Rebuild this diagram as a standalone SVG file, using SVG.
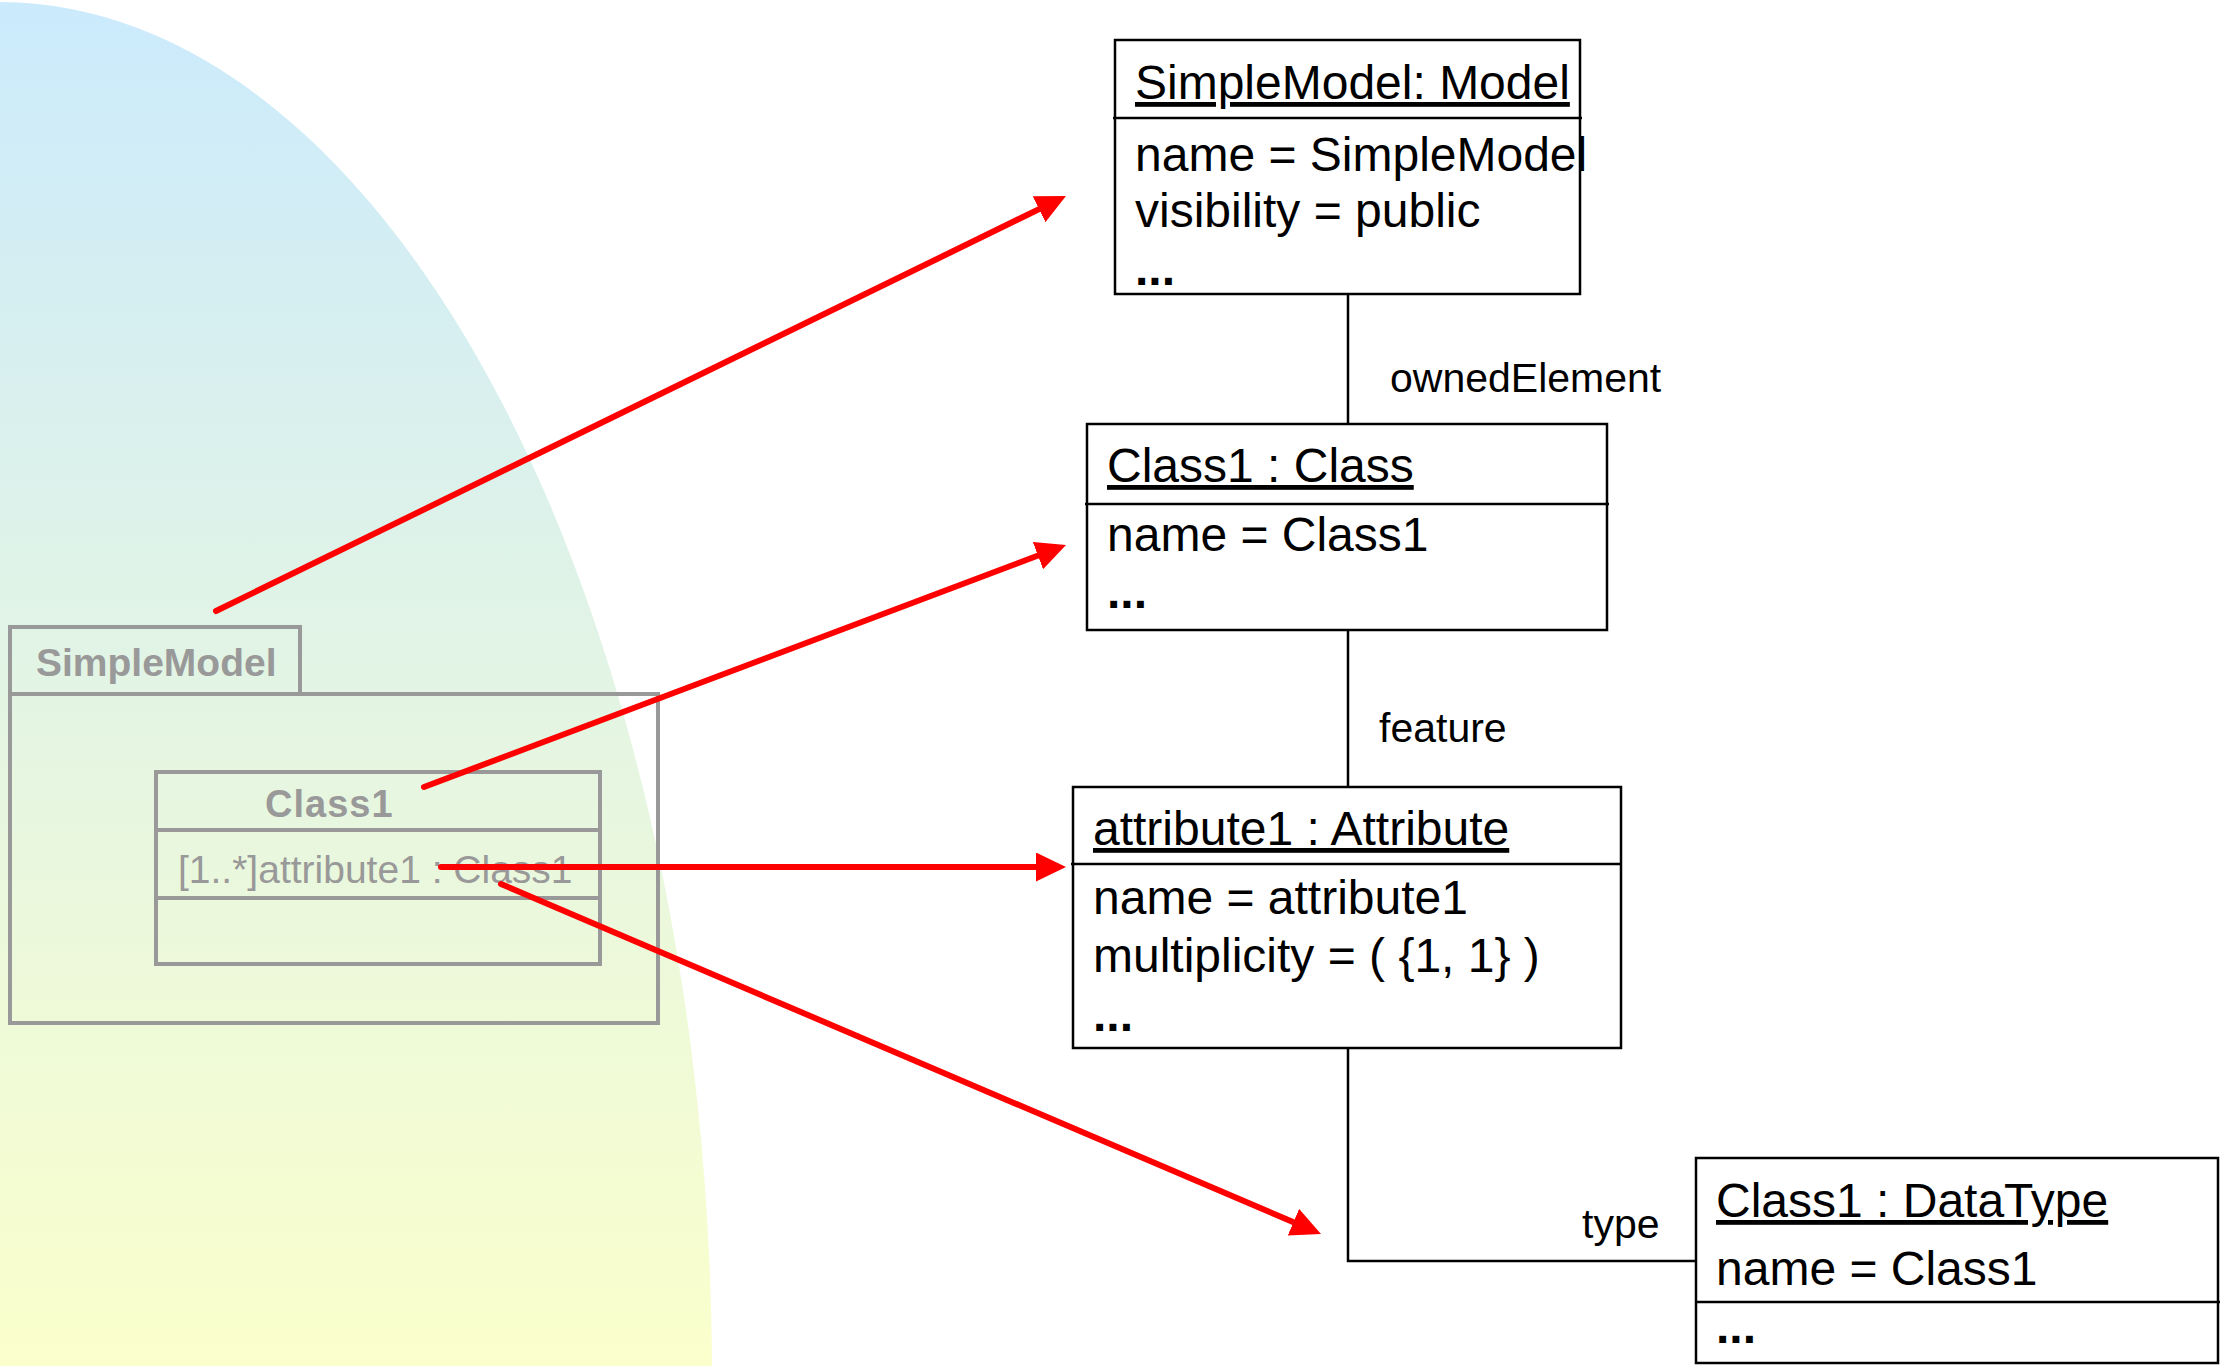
<svg xmlns="http://www.w3.org/2000/svg" width="2226" height="1366" viewBox="0 0 2226 1366">
<style>
.t{font-family:"Liberation Sans",Arial,sans-serif;font-size:48px;fill:#000}
.u{text-decoration:underline}
.dots{font-weight:bold}
.lbl{font-family:"Liberation Sans",Arial,sans-serif;font-size:41px;fill:#000}
.box{fill:#fff;stroke:#000;stroke-width:2.5}
.div{stroke:#000;stroke-width:2.5}
.conn{fill:none;stroke:#000;stroke-width:2.5}
.g{fill:none;stroke:#999;stroke-width:4}
.gt{font-family:"Liberation Sans",Arial,sans-serif;fill:#999}
.red{fill:none;stroke:#f00;stroke-width:6;stroke-linecap:round}
</style>
<defs>
<linearGradient id="bg" x1="0" y1="0" x2="0" y2="1">
<stop offset="0" stop-color="#CBEAFC"/>
<stop offset="1" stop-color="#FBFFCB"/>
</linearGradient>
<marker id="ah" markerUnits="userSpaceOnUse" markerWidth="32" markerHeight="32" refX="15" refY="14.5" orient="auto">
<path d="M0,0 L30,14.5 L0,29 Z" fill="#f00"/>
</marker>
</defs>
<rect width="2226" height="1366" fill="#fff"/>
<path d="M0,2 A712,1378 0 0 1 712,1380 L0,1380 Z" fill="url(#bg)"/>

<g id="pkg-simplemodel">
<rect class="g" x="10" y="627" width="290" height="67"/>
<rect class="g" x="10" y="694" width="648" height="329"/>
<text class="gt" x="36" y="676" font-size="39" font-weight="bold">SimpleModel</text>
</g>
<g id="pkg-class1">
<rect class="g" x="156" y="772" width="444" height="192"/>
<line class="g" x1="156" y1="830" x2="602" y2="830"/>
<line class="g" x1="156" y1="898" x2="602" y2="898"/>
<text class="gt" x="265" y="817" font-size="38" font-weight="bold" letter-spacing="1">Class1</text>
<text class="gt" x="178" y="883" font-size="39">[1..*]attribute1 : Class1</text>
</g>

<g id="connectors">
<line class="conn" x1="1348" y1="294" x2="1348" y2="424"/>
<line class="conn" x1="1348" y1="630" x2="1348" y2="787"/>
<polyline class="conn" points="1348,1048 1348,1261 1696,1261"/>
<text class="lbl" x="1390" y="392">ownedElement</text>
<text class="lbl" x="1379" y="742">feature</text>
<text class="lbl" x="1582" y="1238">type</text>
</g>

<g id="node-model">
<rect class="box" x="1115" y="40" width="465" height="254"/>
<line class="div" x1="1113" y1="118" x2="1582" y2="118"/>
<text class="t u" x="1135" y="99">SimpleModel: Model</text>
<text class="t" x="1135" y="171">name = SimpleModel</text>
<text class="t" x="1135" y="227">visibility = public</text>
<text class="t dots" x="1135" y="285">...</text>
</g>

<g id="node-class">
<rect class="box" x="1087" y="424" width="520" height="206"/>
<line class="div" x1="1085" y1="504" x2="1609" y2="504"/>
<text class="t u" x="1107" y="482">Class1 : Class</text>
<text class="t" x="1107" y="551">name = Class1</text>
<text class="t dots" x="1107" y="608">...</text>
</g>

<g id="node-attribute">
<rect class="box" x="1073" y="787" width="548" height="261"/>
<line class="div" x1="1071" y1="864" x2="1622" y2="864"/>
<text class="t u" x="1093" y="845">attribute1 : Attribute</text>
<text class="t" x="1093" y="914">name = attribute1</text>
<text class="t" x="1093" y="972">multiplicity = ( {1, 1} )</text>
<text class="t dots" x="1093" y="1031">...</text>
</g>

<g id="node-datatype">
<rect class="box" x="1696" y="1158" width="522" height="205"/>
<line class="div" x1="1696" y1="1302" x2="2220" y2="1302"/>
<text class="t u" x="1716" y="1217">Class1 : DataType</text>
<text class="t" x="1716" y="1285">name = Class1</text>
<text class="t dots" x="1716" y="1343">...</text>
</g>

<g id="mapping-arrows">
<line class="red" x1="216" y1="611" x2="1052.5" y2="202.6" marker-end="url(#ah)"/>
<line class="red" x1="424" y1="787" x2="1052" y2="550.3" marker-end="url(#ah)"/>
<line class="red" x1="441" y1="867" x2="1051" y2="867" marker-end="url(#ah)"/>
<line class="red" x1="501" y1="884" x2="1307.2" y2="1228.1" marker-end="url(#ah)"/>
</g>
</svg>
